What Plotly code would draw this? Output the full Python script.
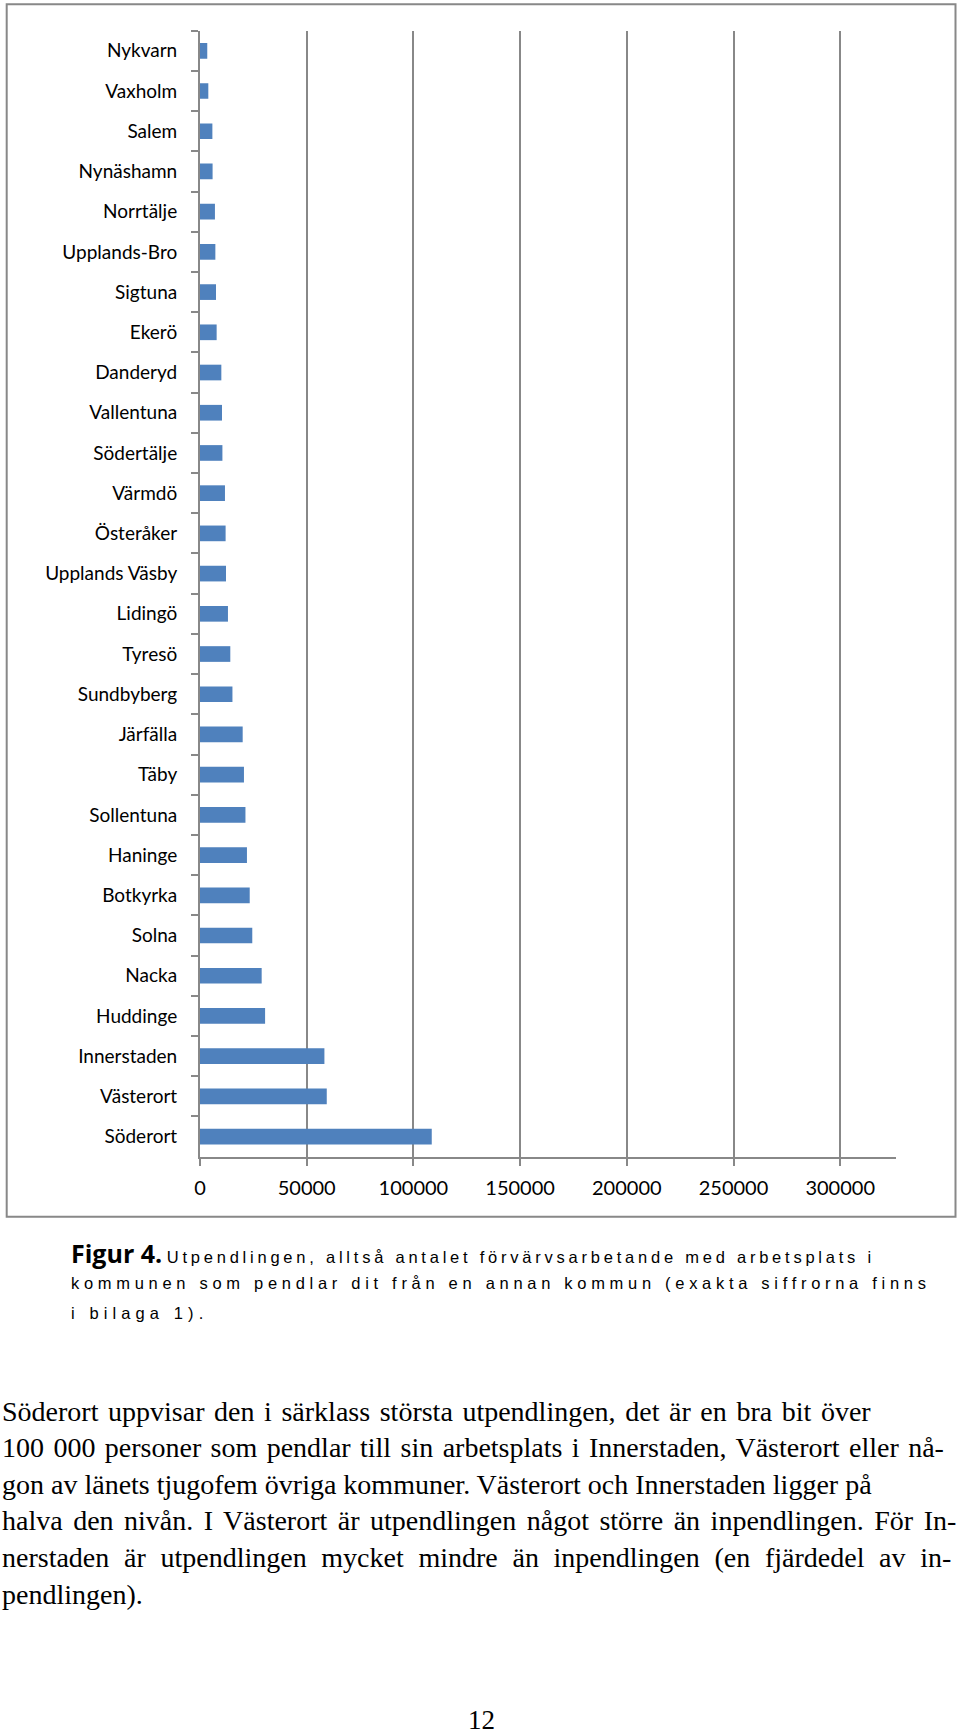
import plotly.graph_objects as go

# Kommuner, uppifrån och ned som i diagrammet
kommuner = ['Nykvarn', 'Vaxholm', 'Salem', 'Nynäshamn', 'Norrtälje', 'Upplands-Bro',
            'Sigtuna', 'Ekerö', 'Danderyd', 'Vallentuna', 'Södertälje', 'Värmdö',
            'Österåker', 'Upplands Väsby', 'Lidingö', 'Tyresö', 'Sundbyberg', 'Järfälla',
            'Täby', 'Sollentuna', 'Haninge', 'Botkyrka', 'Solna', 'Nacka', 'Huddinge',
            'Innerstaden', 'Västerort', 'Söderort']
utpendling = [3400, 3900, 5800, 5900, 7000, 7200, 7500, 7800, 10000, 10300, 10500, 11700,
              12000, 12200, 13100, 14200, 15200, 20000, 20600, 21300, 22000, 23300, 24500,
              28900, 30500, 58300, 59400, 108600]
x_ticks = [0, 50000, 100000, 150000, 200000, 250000, 300000]

caption_lines = [
    'Utpendlingen, alltså antalet förvärvsarbetande med arbetsplats i',
    'kommunen som pendlar dit från en annan kommun (exakta siffrorna finns',
    'i bilaga 1).',
]
body_lines = [
    'Söderort uppvisar den i särklass största utpendlingen, det är en bra bit över',
    '100 000 personer som pendlar till sin arbetsplats i Innerstaden, Västerort eller nå-',
    'gon av länets tjugofem övriga kommuner. Västerort och Innerstaden ligger på',
    'halva den nivån. I Västerort är utpendlingen något större än inpendlingen. För In-',
    'nerstaden är utpendlingen mycket mindre än inpendlingen (en fjärdedel av in-',
    'pendlingen).',
]
# teckenavstånd per rad i figurtexten och ordavstånd per rad i brödtexten (px)
caption_letterspacing = [3.77, 4.7, 5.1]
body_wordspacing = [2.6, 2.4, 0, 3.5, 7.7, 0]

W, H = 960, 1735
GRID = '#888888'


def px(x):
    return x / W


def py(y):
    return 1 - y / H


fig = go.Figure()
fig.add_trace(go.Bar(x=utpendling, y=kommuner, orientation='h', width=0.39,
                     marker=dict(color='#4f81bd', line=dict(width=0))))

fig.update_layout(
    width=W, height=H, margin=dict(l=0, r=0, t=0, b=0, autoexpand=False),
    paper_bgcolor='white', plot_bgcolor='white', showlegend=False,
    font=dict(family='Lato, sans-serif', color='black'),
    xaxis=dict(domain=[px(200), px(896)], range=[0, 326150], automargin=False,
               tickvals=x_ticks, ticktext=[str(v) for v in x_ticks],
               showgrid=True, gridcolor=GRID, gridwidth=2, zeroline=False,
               showline=True, linecolor=GRID, linewidth=2,
               ticks='outside', ticklen=7, tickcolor=GRID, tickwidth=2,
               tickfont=dict(size=20), ticklabelstandoff=5, fixedrange=True),
    yaxis=dict(domain=[py(1156.7), py(30.7)], type='category', automargin=False,
               categoryorder='array', categoryarray=kommuner,
               range=[len(kommuner) - 0.5, -0.5],
               showgrid=False, zeroline=False,
               showline=True, linecolor=GRID, linewidth=2,
               ticks='outside', tickson='boundaries', ticklen=7, tickcolor=GRID, tickwidth=2,
               tickfont=dict(size=19), ticklabelstandoff=17, fixedrange=True),
)

# ram runt diagrammet
fig.add_shape(type='rect', xref='paper', yref='paper',
              x0=px(6.7), x1=px(955.5), y0=py(1216.7), y1=py(4.3),
              line=dict(color=GRID, width=2), fillcolor='rgba(0,0,0,0)')

# figurtext
cap_font = dict(family='Liberation Sans, Arial, sans-serif', size=16.5, color='black')
for i, line in enumerate(caption_lines):
    text = f'<span style="letter-spacing:{caption_letterspacing[i]}px">{line}</span>'
    if i == 0:
        text = ('<span style="font-family:Open Sans;font-weight:bold;font-size:25px">Figur 4.</span> '
                + text)
    fig.add_annotation(x=px(69), y=py(1253 + 30 * i), xref='paper', yref='paper',
                       xanchor='left', yanchor='middle', showarrow=False,
                       text=text, font=cap_font, align='left')

# brödtext
body_font = dict(family='Liberation Serif, Times New Roman, serif', size=28, color='black')
for i, line in enumerate(body_lines):
    ws = body_wordspacing[i]
    text = f'<span style="word-spacing:{ws}px">{line}</span>' if ws else line
    fig.add_annotation(x=px(0), y=py(1411 + 36.6 * i), xref='paper', yref='paper',
                       xanchor='left', yanchor='middle', showarrow=False,
                       text=text, font=body_font, align='left')

fig.add_annotation(x=px(481), y=py(1720), xref='paper', yref='paper',
                   xanchor='center', yanchor='middle', showarrow=False,
                   text='12', font=dict(body_font, size=27))

fig.write_html('out.html', config={'displayModeBar': False},
               post_script="document.body.style.margin='0';document.body.style.overflow='hidden';")
